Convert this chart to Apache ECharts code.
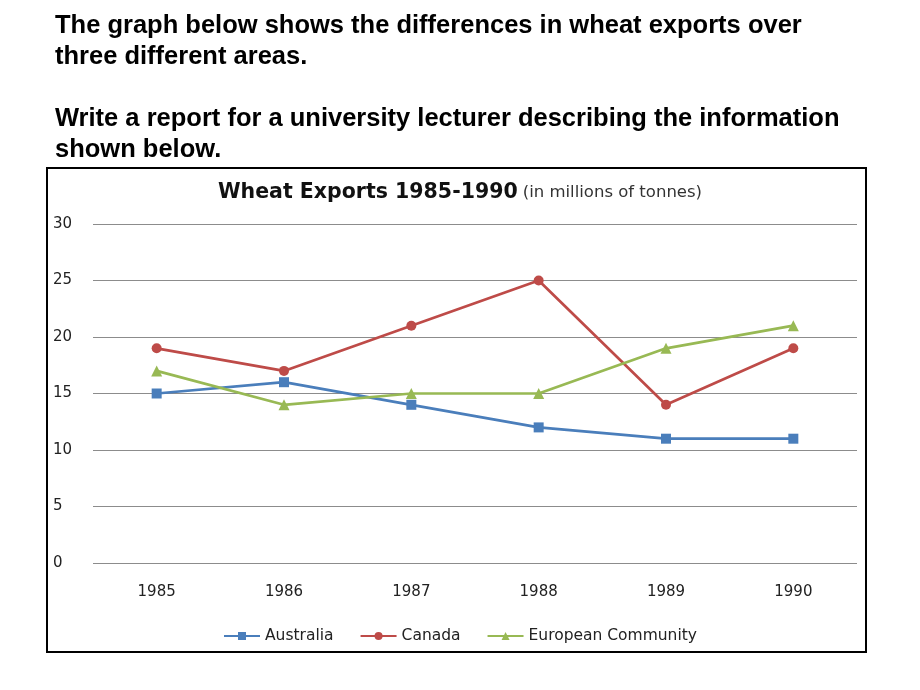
<!DOCTYPE html>
<html><head><meta charset="utf-8">
<script src="https://cdn.jsdelivr.net/npm/echarts@6/dist/echarts.min.js"></script>
<style>html,body{margin:0;padding:0;background:#fff}#c{width:920px;height:690px}</style>
</head><body><div id="c"></div>
<script>
const years = ['1985','1986','1987','1988','1989','1990'];
const australia = [15,16,14,12,11,11];
const canada = [19,17,21,25,14,19];
const europe = [17,14,15,15,19,21];
const yTicks = [0,5,10,15,20,25,30];

const chart = echarts.init(document.getElementById('c'));
const hFont = 'bold 25.5px "Liberation Sans", Arial, sans-serif';
const cFont = '"DejaVu Sans", sans-serif';
const mk = (name, data, color, symbol, size) => ({
  name, type:'line', data, symbol, symbolSize:size,
  lineStyle:{color, width:2.7}, itemStyle:{color}, z:3
});
chart.setOption({
  animation:false,
  graphic:[
    {type:'text', left:55, top:10, style:{text:'The graph below shows the differences in wheat exports over\nthree different areas.', font:hFont, fill:'#000', lineHeight:31}},
    {type:'text', left:55, top:103, style:{text:'Write a report for a university lecturer describing the information\nshown below.', font:hFont, fill:'#000', lineHeight:31}},
    {type:'rect', shape:{x:47, y:168, width:819, height:484}, style:{fill:'none', stroke:'#000', lineWidth:2}, z:-1}
  ],
  title:{
    text:'{a|Wheat Exports 1985-1990} {b|(in millions of tonnes)}',
    left:'center', top:177,
    textStyle:{rich:{
      a:{fontFamily:cFont, fontWeight:'bold', fontSize:20.5, color:'#111'},
      b:{fontFamily:cFont, fontWeight:'normal', fontSize:16.5, color:'#333'}
    }}
  },
  legend:{
    bottom:41, left:'center', itemWidth:36, itemHeight:10, itemGap:26,
    textStyle:{fontFamily:cFont, fontSize:15.5, color:'#222'},
    data:['Australia','Canada','European Community']
  },
  grid:{left:93, right:63, top:224, bottom:127},
  xAxis:{
    type:'category', data:years, boundaryGap:true,
    axisLine:{show:false}, axisTick:{show:false},
    axisLabel:{margin:22, fontFamily:cFont, fontSize:15, color:'#222'}
  },
  yAxis:{
    type:'value', min:0, max:30, interval:5,
    axisLine:{show:false}, axisTick:{show:false},
    axisLabel:{align:'left', margin:40, fontFamily:cFont, fontSize:15, color:'#222',
      formatter:v=> yTicks.includes(v)? String(v):''},
    splitLine:{lineStyle:{color:'#8c8c8c', width:1}}
  },
  series:[
    mk('Australia', australia, '#4a7ebb', 'rect', 10),
    mk('Canada', canada, '#be4b48', 'circle', 10),
    mk('European Community', europe, '#98b954', 'triangle', 11)
  ]
});
</script></body></html>
